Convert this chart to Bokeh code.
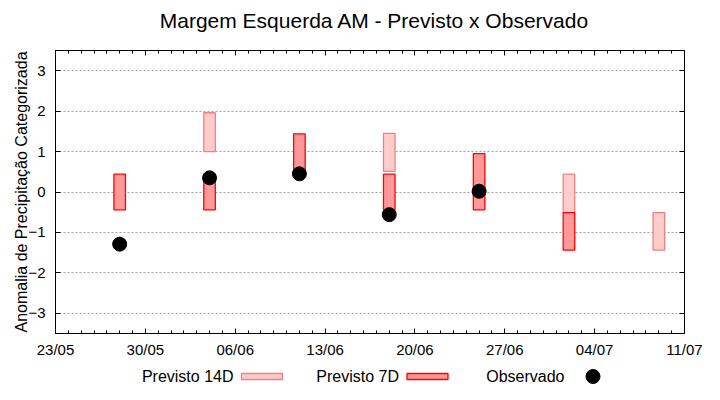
from datetime import datetime, timedelta
from bokeh.plotting import figure
from bokeh.models import (ColumnDataSource, Range1d, LinearAxis, DatetimeAxis, FixedTicker,
                          DatetimeTickFormatter, CustomJSTickFormatter, Grid)
from bokeh.layouts import column
from bokeh.embed import file_html
from bokeh.resources import INLINE
from bokeh.core.properties import value

# ---------------- data ----------------
title_text = "Margem Esquerda AM - Previsto x Observado"
y_label = "Anomalia de Precipitação Categorizada"

x_ticks = ["2023-05-23", "2023-05-30", "2023-06-06", "2023-06-13",
           "2023-06-20", "2023-06-27", "2023-07-04", "2023-07-11"]
x_tick_labels = ["23/05", "30/05", "06/06", "13/06", "20/06", "27/06", "04/07", "11/07"]
y_ticks = [-3, -2, -1, 0, 1, 2, 3]

dates_14d = ["2023-06-04", "2023-06-18", "2023-07-02", "2023-07-09"]
low_14d = [1.00, 0.51, -0.51, -1.44]
high_14d = [1.96, 1.45, 0.44, -0.51]

dates_7d = ["2023-05-28", "2023-06-04", "2023-06-11", "2023-06-18", "2023-06-25", "2023-07-02"]
low_7d = [-0.44, -0.44, 0.44, -0.44, -0.44, -1.44]
high_7d = [0.44, 0.44, 1.44, 0.44, 0.95, -0.51]

dates_obs = ["2023-05-28", "2023-06-04", "2023-06-11", "2023-06-18", "2023-06-25"]
obs = [-1.29, 0.35, 0.45, -0.56, 0.02]

legend_labels = ["Previsto 14D", "Previsto 7D", "Observado"]

# ---------------- styles / layout ----------------
FONT = "Liberation Sans"
C14_FILL, C14_LINE = "#ffcccc", "#f08080"
C7_FILL, C7_LINE = "#ff9999", "#ff0000"
DAY_MS = 86400000
W = 704
TITLE_H = 38
BORDER_L, BORDER_R = 55, 20
PLOT_H, BORDER_T, BORDER_B = 322, 12, 26
LEG_H = 24
TITLE_X = 374


def to_dt(s):
    return datetime.strptime(s, "%Y-%m-%d")


def to_ms(d):
    return int((d - datetime(1970, 1, 1)).total_seconds() * 1000)


x_start, x_end = to_dt(x_ticks[0]), to_dt(x_ticks[-1])
major_ms = [to_ms(to_dt(s)) for s in x_ticks]
n_days = (x_end - x_start).days
minor_ms = [to_ms(x_start + timedelta(days=i)) for i in range(n_days + 1)]

# strips share the main plot's frame, so map their x data to canvas pixels
strip_xr = (BORDER_L, W - BORDER_R)

# ---------------- title strip ----------------
tf = figure(width=W, height=TITLE_H, x_range=Range1d(*strip_xr), y_range=Range1d(0, TITLE_H),
            x_axis_type=None, y_axis_type=None, output_backend="svg", toolbar_location=None,
            min_border=0)
tf.outline_line_color = None
tf.text(x=[TITLE_X], y=[TITLE_H - 20], text=[title_text], text_align="center",
        text_baseline="middle", text_font=value(FONT), text_font_size="21px",
        text_color="black")

# ---------------- main plot ----------------
p = figure(width=W, height=PLOT_H,
           x_range=Range1d(x_start, x_end), y_range=Range1d(-3.5, 3.5),
           x_axis_type=None, y_axis_type=None,
           output_backend="svg", toolbar_location=None,
           min_border_left=BORDER_L, min_border_right=BORDER_R,
           min_border_top=BORDER_T, min_border_bottom=BORDER_B)
p.outline_line_color = "black"
p.background_fill_color = "white"
p.border_fill_color = "white"

xticker = FixedTicker(ticks=major_ms, minor_ticks=minor_ms)
yticker = FixedTicker(ticks=y_ticks, minor_ticks=[])
blank = CustomJSTickFormatter(code="return ''")


def style_axis(ax):
    ax.axis_line_color = "black"
    ax.axis_line_width = 1
    ax.major_tick_in = 5
    ax.major_tick_out = 0
    ax.minor_tick_in = 3
    ax.minor_tick_out = 0
    ax.major_tick_line_color = "black"
    ax.minor_tick_line_color = "black"
    ax.major_label_text_font = FONT
    ax.major_label_text_font_size = "15px"
    ax.major_label_text_color = "black"


xfmt = DatetimeTickFormatter(days="%d/%m", months="%d/%m", hours="%d/%m", years="%d/%m",
                             strip_leading_zeros=False)
xb = DatetimeAxis(ticker=xticker, formatter=xfmt)
xb.major_label_overrides = {m: lab for m, lab in zip(major_ms, x_tick_labels)}
style_axis(xb)
xb.major_label_standoff = 7
p.add_layout(xb, "below")

xt = DatetimeAxis(ticker=xticker, formatter=blank)
style_axis(xt)
xt.major_label_standoff = 0
xt.major_label_text_font_size = "1px"
p.add_layout(xt, "above")

yl = LinearAxis(ticker=yticker, axis_label=y_label)
style_axis(yl)
yl.minor_tick_line_color = None
yl.major_label_standoff = 10
yl.axis_label_text_font = FONT
yl.axis_label_text_font_size = "16px"
yl.axis_label_text_font_style = "normal"
yl.axis_label_text_color = "black"
yl.axis_label_standoff = -5
p.add_layout(yl, "left")

yr = LinearAxis(ticker=yticker, formatter=blank)
style_axis(yr)
yr.minor_tick_line_color = None
yr.major_label_standoff = 0
yr.major_label_text_font_size = "1px"
p.add_layout(yr, "right")

p.add_layout(Grid(dimension=1, ticker=yticker, grid_line_color="#a0a0a0",
                  grid_line_dash="2 2", grid_line_width=1))

src14 = ColumnDataSource(dict(x=[to_dt(s) for s in dates_14d], bottom=low_14d, top=high_14d))
src7 = ColumnDataSource(dict(x=[to_dt(s) for s in dates_7d], bottom=low_7d, top=high_7d))
srco = ColumnDataSource(dict(x=[to_dt(s) for s in dates_obs], y=obs))

p.vbar(x="x", bottom="bottom", top="top", width=0.9 * DAY_MS, source=src14,
       fill_color=C14_FILL, line_color=C14_LINE, line_width=1.3)
p.vbar(x="x", bottom="bottom", top="top", width=0.9 * DAY_MS, source=src7,
       fill_color=C7_FILL, line_color=C7_LINE, line_width=1.3)
p.scatter(x="x", y="y", source=srco, size=14, marker="circle",
          fill_color="black", line_color="black")

# ---------------- legend (key strip below the plot) ----------------
leg = figure(width=W, height=LEG_H, x_range=Range1d(*strip_xr), y_range=Range1d(0, LEG_H),
             x_axis_type=None, y_axis_type=None, output_backend="svg", toolbar_location=None,
             min_border=0)
leg.outline_line_color = None
leg_x0, leg_step, leg_y = 261.5, 165.5, 8
centers = [leg_x0 + i * leg_step for i in range(len(legend_labels))]
leg.text(x=[c - 28.5 for c in centers], y=[leg_y] * 3, text=legend_labels,
         text_align="right", text_baseline="middle", text_font=value(FONT),
         text_font_size="16px", text_color="black")
leg.rect(x=centers[:2], y=[leg_y] * 2, width=41, height=6,
         width_units="screen", height_units="screen",
         fill_color=[C14_FILL, C7_FILL], line_color=[C14_LINE, C7_LINE], line_width=1.3)
leg.scatter(x=centers[2:], y=[leg_y], size=14, marker="circle",
            fill_color="black", line_color="black")

layout = column(tf, p, leg, spacing=0)
open("out.html", "w").write(file_html(layout, INLINE))
